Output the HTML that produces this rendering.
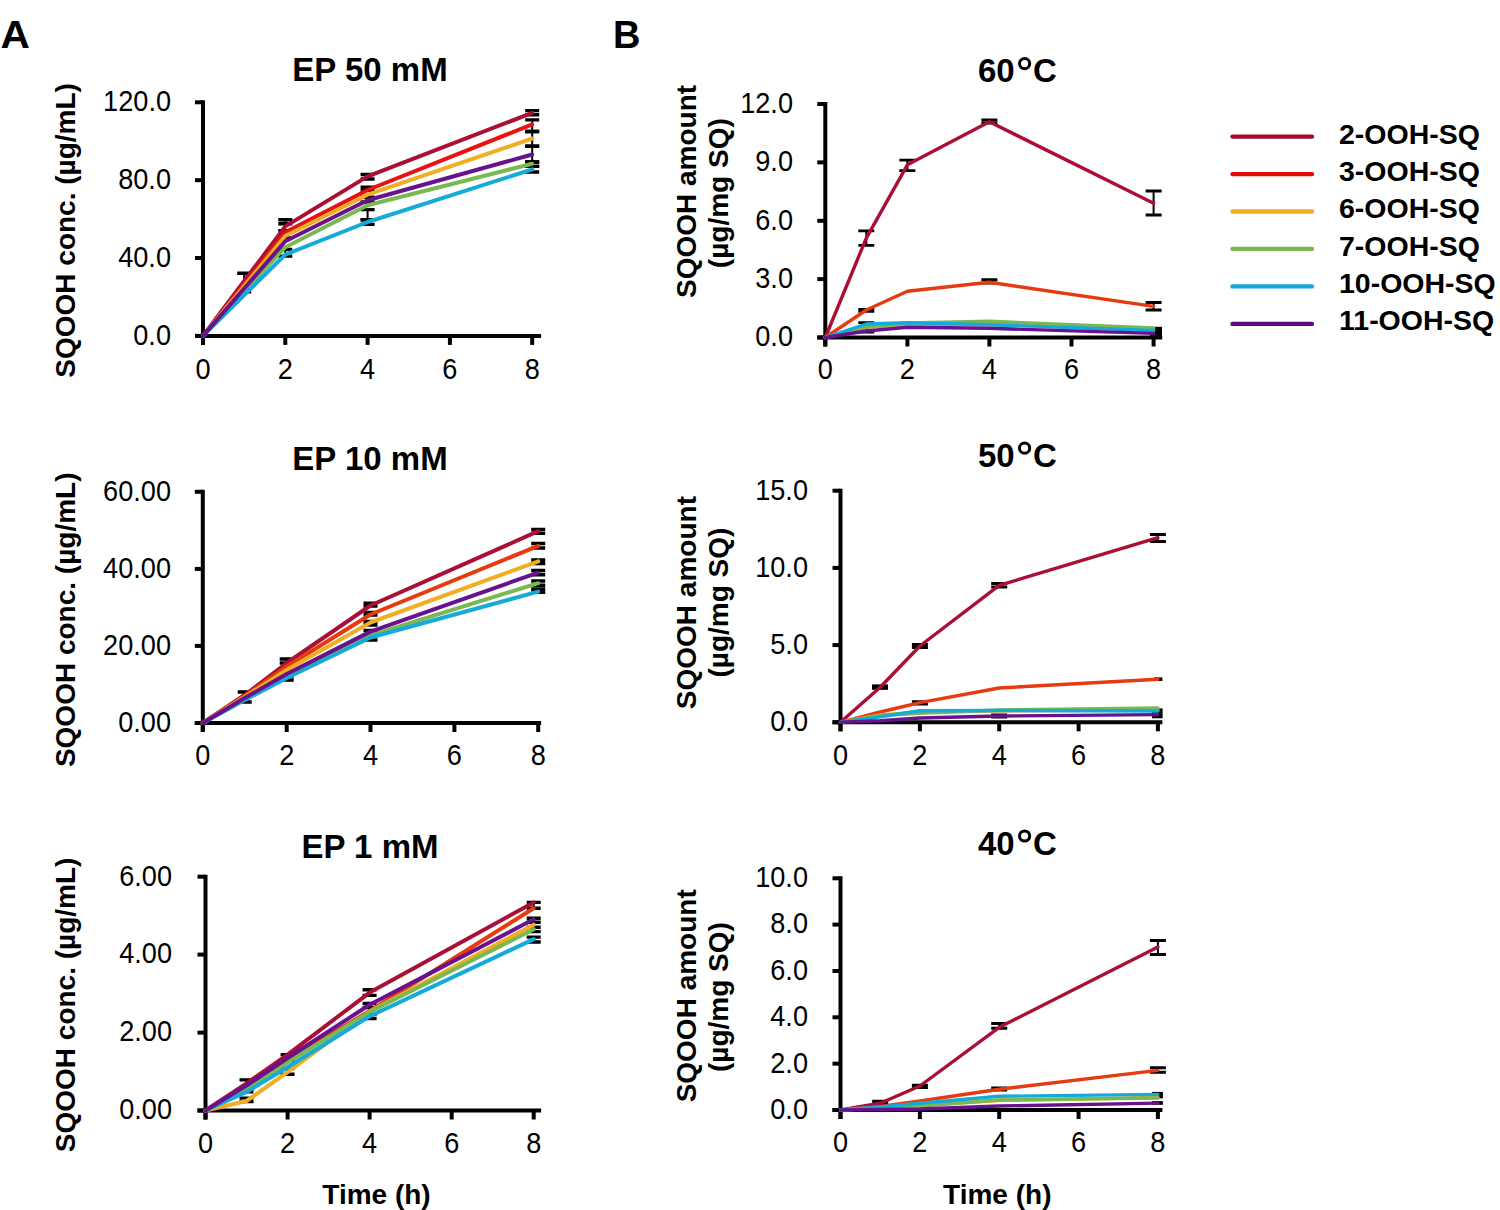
<!DOCTYPE html>
<html><head><meta charset="utf-8"><style>
html,body{margin:0;padding:0;background:#fff;width:1500px;height:1210px;overflow:hidden}
svg{display:block}
text{font-family:"Liberation Sans", sans-serif;fill:#000}
.b{font-weight:bold}
</style></head><body>
<svg width="1500" height="1210" viewBox="0 0 1500 1210">
<rect width="1500" height="1210" fill="#fff"/>
<text class="b" transform="translate(0.6 47.6) scale(1.07 1)" font-size="38">A</text>
<text class="b" x="613" y="47.6" font-size="38">B</text>
<text class="b" x="370" y="80.6" font-size="33" text-anchor="middle">EP 50 mM</text>
<text class="b" x="370" y="470" font-size="33" text-anchor="middle">EP 10 mM</text>
<text class="b" x="370" y="857.8" font-size="33" text-anchor="middle">EP 1 mM</text>
<text class="b" x="978" y="82.2" font-size="33">60</text>
<circle cx="1024.6" cy="63.6" r="5.1" fill="none" stroke="#000" stroke-width="3.0"/>
<text class="b" x="1033" y="82.2" font-size="33">C</text>
<text class="b" x="978" y="466.8" font-size="33">50</text>
<circle cx="1024.6" cy="448.2" r="5.1" fill="none" stroke="#000" stroke-width="3.0"/>
<text class="b" x="1033" y="466.8" font-size="33">C</text>
<text class="b" x="978" y="854.6" font-size="33">40</text>
<circle cx="1024.6" cy="836.0" r="5.1" fill="none" stroke="#000" stroke-width="3.0"/>
<text class="b" x="1033" y="854.6" font-size="33">C</text>
<text class="b" font-size="28" text-anchor="middle" transform="translate(75.4 230.4) rotate(-90)">SQOOH conc. (µg/mL)</text>
<text class="b" font-size="28" text-anchor="middle" transform="translate(75.4 619.8) rotate(-90)">SQOOH conc. (µg/mL)</text>
<text class="b" font-size="28" text-anchor="middle" transform="translate(75.4 1004.9) rotate(-90)">SQOOH conc. (µg/mL)</text>
<text class="b" font-size="28" text-anchor="middle" transform="translate(696.1 191.4) rotate(-90)">SQOOH amount</text>
<text class="b" font-size="28" text-anchor="middle" transform="translate(727.6 193.2) rotate(-90)">(µg/mg SQ)</text>
<text class="b" font-size="28" text-anchor="middle" transform="translate(696.1 602.6) rotate(-90)">SQOOH amount</text>
<text class="b" font-size="28" text-anchor="middle" transform="translate(727.6 602.6) rotate(-90)">(µg/mg SQ)</text>
<text class="b" font-size="28" text-anchor="middle" transform="translate(696.1 995.8) rotate(-90)">SQOOH amount</text>
<text class="b" font-size="28" text-anchor="middle" transform="translate(727.6 997.1) rotate(-90)">(µg/mg SQ)</text>
<text class="b" x="376.5" y="1203.7" font-size="28" text-anchor="middle">Time (h)</text>
<text class="b" x="997.3" y="1203.7" font-size="28" text-anchor="middle">Time (h)</text>
<path d="M203.0 100.3 V344.9" stroke="#000" stroke-width="4.0"/>
<path d="M195.0 335.9 H541.1" stroke="#000" stroke-width="4.0"/>
<path d="M195.0 335.9 H203.0" stroke="#000" stroke-width="4.0"/>
<text transform="translate(171.0 344.7) scale(0.92 1)" text-anchor="end" font-size="29.5">0.0</text>
<path d="M195.0 258.0 H203.0" stroke="#000" stroke-width="4.0"/>
<text transform="translate(171.0 266.8) scale(0.92 1)" text-anchor="end" font-size="29.5">40.0</text>
<path d="M195.0 180.2 H203.0" stroke="#000" stroke-width="4.0"/>
<text transform="translate(171.0 189.0) scale(0.92 1)" text-anchor="end" font-size="29.5">80.0</text>
<path d="M195.0 102.3 H203.0" stroke="#000" stroke-width="4.0"/>
<text transform="translate(171.0 111.1) scale(0.92 1)" text-anchor="end" font-size="29.5">120.0</text>
<path d="M203.0 335.9 V344.9" stroke="#000" stroke-width="4.0"/>
<text transform="translate(203.0 378.8) scale(0.92 1)" text-anchor="middle" font-size="29.5">0</text>
<path d="M285.3 335.9 V344.9" stroke="#000" stroke-width="4.0"/>
<text transform="translate(285.3 378.8) scale(0.92 1)" text-anchor="middle" font-size="29.5">2</text>
<path d="M367.6 335.9 V344.9" stroke="#000" stroke-width="4.0"/>
<text transform="translate(367.6 378.8) scale(0.92 1)" text-anchor="middle" font-size="29.5">4</text>
<path d="M449.9 335.9 V344.9" stroke="#000" stroke-width="4.0"/>
<text transform="translate(449.9 378.8) scale(0.92 1)" text-anchor="middle" font-size="29.5">6</text>
<path d="M532.2 335.9 V344.9" stroke="#000" stroke-width="4.0"/>
<text transform="translate(532.2 378.8) scale(0.92 1)" text-anchor="middle" font-size="29.5">8</text>
<path d="M244.2 273.2 V291.8" stroke="#000" stroke-width="2"/>
<path d="M237.2 273.2 H251.2 M237.2 291.8 H251.2" stroke="#000" stroke-width="3.4"/>
<path d="M285.3 219.7 V223.8" stroke="#000" stroke-width="2"/>
<path d="M278.3 219.7 H292.3 M278.3 223.8 H292.3" stroke="#000" stroke-width="3.4"/>
<path d="M285.3 230.8 V238.0" stroke="#000" stroke-width="2"/>
<path d="M278.3 230.8 H292.3 M278.3 238.0 H292.3" stroke="#000" stroke-width="3.4"/>
<path d="M285.3 249.4 V256.1" stroke="#000" stroke-width="2"/>
<path d="M278.3 249.4 H292.3 M278.3 256.1 H292.3" stroke="#000" stroke-width="3.4"/>
<path d="M367.6 174.5 V179.0" stroke="#000" stroke-width="2"/>
<path d="M360.6 174.5 H374.6 M360.6 179.0 H374.6" stroke="#000" stroke-width="3.4"/>
<path d="M367.6 187.3 V190.4" stroke="#000" stroke-width="2"/>
<path d="M360.6 187.3 H374.6 M360.6 190.4 H374.6" stroke="#000" stroke-width="3.4"/>
<path d="M367.6 197.2 V202.0" stroke="#000" stroke-width="2"/>
<path d="M360.6 197.2 H374.6 M360.6 202.0 H374.6" stroke="#000" stroke-width="3.4"/>
<path d="M367.6 209.6 V219.8" stroke="#000" stroke-width="2"/>
<path d="M360.6 209.6 H374.6 M360.6 219.8 H374.6" stroke="#000" stroke-width="3.4"/>
<path d="M367.6 219.8 V224.4" stroke="#000" stroke-width="2"/>
<path d="M360.6 219.8 H374.6 M360.6 224.4 H374.6" stroke="#000" stroke-width="3.4"/>
<path d="M532.2 110.6 V114.7" stroke="#000" stroke-width="2"/>
<path d="M525.2 110.6 H539.2 M525.2 114.7 H539.2" stroke="#000" stroke-width="3.4"/>
<path d="M532.2 119.9 V131.5" stroke="#000" stroke-width="2"/>
<path d="M525.2 119.9 H539.2 M525.2 131.5 H539.2" stroke="#000" stroke-width="3.4"/>
<path d="M532.2 131.5 V146.3" stroke="#000" stroke-width="2"/>
<path d="M525.2 131.5 H539.2 M525.2 146.3 H539.2" stroke="#000" stroke-width="3.4"/>
<path d="M532.2 146.3 V162.0" stroke="#000" stroke-width="2"/>
<path d="M525.2 146.3 H539.2 M525.2 162.0 H539.2" stroke="#000" stroke-width="3.4"/>
<path d="M532.2 162.0 V166.4" stroke="#000" stroke-width="2"/>
<path d="M525.2 162.0 H539.2 M525.2 166.4 H539.2" stroke="#000" stroke-width="3.4"/>
<path d="M532.2 166.4 V172.0" stroke="#000" stroke-width="2"/>
<path d="M525.2 166.4 H539.2 M525.2 172.0 H539.2" stroke="#000" stroke-width="3.4"/>
<path d="M203.0 335.9 L244.2 281.0 L285.3 226.4 L367.6 176.4 L532.2 112.9" fill="none" stroke="#AA1036" stroke-width="4.0" stroke-linejoin="round" stroke-linecap="round"/>
<path d="M203.0 335.9 L244.2 284.0 L285.3 232.3 L367.6 190.0 L532.2 124.4" fill="none" stroke="#E81212" stroke-width="4.0" stroke-linejoin="round" stroke-linecap="round"/>
<path d="M203.0 335.9 L244.2 286.0 L285.3 236.0 L367.6 194.7 L532.2 138.5" fill="none" stroke="#F0AE22" stroke-width="4.0" stroke-linejoin="round" stroke-linecap="round"/>
<path d="M203.0 335.9 L244.2 291.0 L285.3 247.2 L367.6 205.2 L532.2 163.8" fill="none" stroke="#7AB852" stroke-width="4.0" stroke-linejoin="round" stroke-linecap="round"/>
<path d="M203.0 335.9 L244.2 295.0 L285.3 254.6 L367.6 222.0 L532.2 169.4" fill="none" stroke="#16AADA" stroke-width="4.0" stroke-linejoin="round" stroke-linecap="round"/>
<path d="M203.0 335.9 L244.2 288.5 L285.3 241.2 L367.6 200.3 L532.2 154.5" fill="none" stroke="#68128E" stroke-width="4.0" stroke-linejoin="round" stroke-linecap="round"/>
<path d="M202.8 489.8 V732.0" stroke="#000" stroke-width="4.0"/>
<path d="M194.8 723.0 H541.1" stroke="#000" stroke-width="4.0"/>
<path d="M194.8 723.0 H202.8" stroke="#000" stroke-width="4.0"/>
<text transform="translate(171.0 731.8) scale(0.92 1)" text-anchor="end" font-size="29.5">0.00</text>
<path d="M194.8 645.9 H202.8" stroke="#000" stroke-width="4.0"/>
<text transform="translate(171.0 654.7) scale(0.92 1)" text-anchor="end" font-size="29.5">20.00</text>
<path d="M194.8 568.9 H202.8" stroke="#000" stroke-width="4.0"/>
<text transform="translate(171.0 577.7) scale(0.92 1)" text-anchor="end" font-size="29.5">40.00</text>
<path d="M194.8 491.8 H202.8" stroke="#000" stroke-width="4.0"/>
<text transform="translate(171.0 500.6) scale(0.92 1)" text-anchor="end" font-size="29.5">60.00</text>
<path d="M202.8 723.0 V732.0" stroke="#000" stroke-width="4.0"/>
<text transform="translate(202.8 765.3) scale(0.92 1)" text-anchor="middle" font-size="29.5">0</text>
<path d="M286.7 723.0 V732.0" stroke="#000" stroke-width="4.0"/>
<text transform="translate(286.7 765.3) scale(0.92 1)" text-anchor="middle" font-size="29.5">2</text>
<path d="M370.5 723.0 V732.0" stroke="#000" stroke-width="4.0"/>
<text transform="translate(370.5 765.3) scale(0.92 1)" text-anchor="middle" font-size="29.5">4</text>
<path d="M454.4 723.0 V732.0" stroke="#000" stroke-width="4.0"/>
<text transform="translate(454.4 765.3) scale(0.92 1)" text-anchor="middle" font-size="29.5">6</text>
<path d="M538.2 723.0 V732.0" stroke="#000" stroke-width="4.0"/>
<text transform="translate(538.2 765.3) scale(0.92 1)" text-anchor="middle" font-size="29.5">8</text>
<path d="M244.7 692.0 V702.0" stroke="#000" stroke-width="2"/>
<path d="M237.7 692.0 H251.7 M237.7 702.0 H251.7" stroke="#000" stroke-width="3.4"/>
<path d="M286.7 659.0 V663.0" stroke="#000" stroke-width="2"/>
<path d="M279.7 659.0 H293.7 M279.7 663.0 H293.7" stroke="#000" stroke-width="3.4"/>
<path d="M286.7 676.0 V680.0" stroke="#000" stroke-width="2"/>
<path d="M279.7 676.0 H293.7 M279.7 680.0 H293.7" stroke="#000" stroke-width="3.4"/>
<path d="M370.5 603.3 V606.0" stroke="#000" stroke-width="2"/>
<path d="M363.5 603.3 H377.5 M363.5 606.0 H377.5" stroke="#000" stroke-width="3.4"/>
<path d="M370.5 612.4 V615.0" stroke="#000" stroke-width="2"/>
<path d="M363.5 612.4 H377.5 M363.5 615.0 H377.5" stroke="#000" stroke-width="3.4"/>
<path d="M370.5 621.5 V625.0" stroke="#000" stroke-width="2"/>
<path d="M363.5 621.5 H377.5 M363.5 625.0 H377.5" stroke="#000" stroke-width="3.4"/>
<path d="M370.5 630.5 V640.0" stroke="#000" stroke-width="2"/>
<path d="M363.5 630.5 H377.5 M363.5 640.0 H377.5" stroke="#000" stroke-width="3.4"/>
<path d="M538.2 529.4 V533.3" stroke="#000" stroke-width="2"/>
<path d="M531.2 529.4 H545.2 M531.2 533.3 H545.2" stroke="#000" stroke-width="3.4"/>
<path d="M538.2 543.5 V548.0" stroke="#000" stroke-width="2"/>
<path d="M531.2 543.5 H545.2 M531.2 548.0 H545.2" stroke="#000" stroke-width="3.4"/>
<path d="M538.2 560.0 V563.5" stroke="#000" stroke-width="2"/>
<path d="M531.2 560.0 H545.2 M531.2 563.5 H545.2" stroke="#000" stroke-width="3.4"/>
<path d="M538.2 570.5 V574.7" stroke="#000" stroke-width="2"/>
<path d="M531.2 570.5 H545.2 M531.2 574.7 H545.2" stroke="#000" stroke-width="3.4"/>
<path d="M538.2 581.0 V585.3" stroke="#000" stroke-width="2"/>
<path d="M531.2 581.0 H545.2 M531.2 585.3 H545.2" stroke="#000" stroke-width="3.4"/>
<path d="M538.2 589.0 V592.3" stroke="#000" stroke-width="2"/>
<path d="M531.2 589.0 H545.2 M531.2 592.3 H545.2" stroke="#000" stroke-width="3.4"/>
<path d="M202.8 723.0 L244.7 695.0 L286.7 663.0 L370.5 605.5 L538.2 531.2" fill="none" stroke="#AA1036" stroke-width="4.0" stroke-linejoin="round" stroke-linecap="round"/>
<path d="M202.8 723.0 L244.7 696.0 L286.7 666.5 L370.5 614.5 L538.2 545.9" fill="none" stroke="#E63A10" stroke-width="4.0" stroke-linejoin="round" stroke-linecap="round"/>
<path d="M202.8 723.0 L244.7 697.0 L286.7 670.0 L370.5 622.5 L538.2 561.4" fill="none" stroke="#F0AE22" stroke-width="4.0" stroke-linejoin="round" stroke-linecap="round"/>
<path d="M202.8 723.0 L244.7 699.0 L286.7 677.0 L370.5 635.3 L538.2 583.2" fill="none" stroke="#7AB852" stroke-width="4.0" stroke-linejoin="round" stroke-linecap="round"/>
<path d="M202.8 723.0 L244.7 700.0 L286.7 678.0 L370.5 637.5 L538.2 591.6" fill="none" stroke="#16AADA" stroke-width="4.0" stroke-linejoin="round" stroke-linecap="round"/>
<path d="M202.8 723.0 L244.7 698.0 L286.7 674.0 L370.5 631.6 L538.2 572.6" fill="none" stroke="#68128E" stroke-width="4.0" stroke-linejoin="round" stroke-linecap="round"/>
<path d="M205.5 874.7 V1119.5" stroke="#000" stroke-width="4.0"/>
<path d="M197.5 1110.5 H541.1" stroke="#000" stroke-width="4.0"/>
<path d="M197.5 1110.5 H205.5" stroke="#000" stroke-width="4.0"/>
<text transform="translate(172.0 1119.3) scale(0.92 1)" text-anchor="end" font-size="29.5">0.00</text>
<path d="M197.5 1032.6 H205.5" stroke="#000" stroke-width="4.0"/>
<text transform="translate(172.0 1041.4) scale(0.92 1)" text-anchor="end" font-size="29.5">2.00</text>
<path d="M197.5 954.6 H205.5" stroke="#000" stroke-width="4.0"/>
<text transform="translate(172.0 963.4) scale(0.92 1)" text-anchor="end" font-size="29.5">4.00</text>
<path d="M197.5 876.7 H205.5" stroke="#000" stroke-width="4.0"/>
<text transform="translate(172.0 885.5) scale(0.92 1)" text-anchor="end" font-size="29.5">6.00</text>
<path d="M205.5 1110.5 V1119.5" stroke="#000" stroke-width="4.0"/>
<text transform="translate(205.5 1152.8) scale(0.92 1)" text-anchor="middle" font-size="29.5">0</text>
<path d="M287.6 1110.5 V1119.5" stroke="#000" stroke-width="4.0"/>
<text transform="translate(287.6 1152.8) scale(0.92 1)" text-anchor="middle" font-size="29.5">2</text>
<path d="M369.6 1110.5 V1119.5" stroke="#000" stroke-width="4.0"/>
<text transform="translate(369.6 1152.8) scale(0.92 1)" text-anchor="middle" font-size="29.5">4</text>
<path d="M451.7 1110.5 V1119.5" stroke="#000" stroke-width="4.0"/>
<text transform="translate(451.7 1152.8) scale(0.92 1)" text-anchor="middle" font-size="29.5">6</text>
<path d="M533.7 1110.5 V1119.5" stroke="#000" stroke-width="4.0"/>
<text transform="translate(533.7 1152.8) scale(0.92 1)" text-anchor="middle" font-size="29.5">8</text>
<path d="M246.5 1079.9 V1091.8" stroke="#000" stroke-width="2"/>
<path d="M239.5 1079.9 H253.5 M239.5 1091.8 H253.5" stroke="#000" stroke-width="3.4"/>
<path d="M246.5 1098.1 V1101.6" stroke="#000" stroke-width="2"/>
<path d="M239.5 1098.1 H253.5 M239.5 1101.6 H253.5" stroke="#000" stroke-width="3.4"/>
<path d="M287.6 1054.6 V1060.2" stroke="#000" stroke-width="2"/>
<path d="M280.6 1054.6 H294.6 M280.6 1060.2 H294.6" stroke="#000" stroke-width="3.4"/>
<path d="M287.6 1068.6 V1074.2" stroke="#000" stroke-width="2"/>
<path d="M280.6 1068.6 H294.6 M280.6 1074.2 H294.6" stroke="#000" stroke-width="3.4"/>
<path d="M369.6 989.7 V995.4" stroke="#000" stroke-width="2"/>
<path d="M362.6 989.7 H376.6 M362.6 995.4 H376.6" stroke="#000" stroke-width="3.4"/>
<path d="M369.6 1003.5 V1007.6" stroke="#000" stroke-width="2"/>
<path d="M362.6 1003.5 H376.6 M362.6 1007.6 H376.6" stroke="#000" stroke-width="3.4"/>
<path d="M369.6 1014.5 V1018.6" stroke="#000" stroke-width="2"/>
<path d="M362.6 1014.5 H376.6 M362.6 1018.6 H376.6" stroke="#000" stroke-width="3.4"/>
<path d="M533.7 902.4 V908.3" stroke="#000" stroke-width="2"/>
<path d="M526.7 902.4 H540.7 M526.7 908.3 H540.7" stroke="#000" stroke-width="3.4"/>
<path d="M533.7 918.3 V922.2" stroke="#000" stroke-width="2"/>
<path d="M526.7 918.3 H540.7 M526.7 922.2 H540.7" stroke="#000" stroke-width="3.4"/>
<path d="M533.7 927.2 V931.6" stroke="#000" stroke-width="2"/>
<path d="M526.7 927.2 H540.7 M526.7 931.6 H540.7" stroke="#000" stroke-width="3.4"/>
<path d="M533.7 937.1 V942.0" stroke="#000" stroke-width="2"/>
<path d="M526.7 937.1 H540.7 M526.7 942.0 H540.7" stroke="#000" stroke-width="3.4"/>
<path d="M205.5 1110.5 L246.5 1083.4 L287.6 1054.6 L369.6 992.6 L533.7 902.4" fill="none" stroke="#AA1036" stroke-width="4.0" stroke-linejoin="round" stroke-linecap="round"/>
<path d="M205.5 1110.5 L246.5 1086.0 L287.6 1060.0 L369.6 1011.0 L533.7 908.3" fill="none" stroke="#E63A10" stroke-width="4.0" stroke-linejoin="round" stroke-linecap="round"/>
<path d="M205.5 1110.5 L246.5 1101.0 L287.6 1072.1 L369.6 1011.6 L533.7 924.7" fill="none" stroke="#F0AE22" stroke-width="4.0" stroke-linejoin="round" stroke-linecap="round"/>
<path d="M205.5 1110.5 L246.5 1089.7 L287.6 1062.3 L369.6 1012.0 L533.7 929.2" fill="none" stroke="#7AB852" stroke-width="4.0" stroke-linejoin="round" stroke-linecap="round"/>
<path d="M205.5 1110.5 L246.5 1092.0 L287.6 1067.2 L369.6 1016.3 L533.7 939.1" fill="none" stroke="#16AADA" stroke-width="4.0" stroke-linejoin="round" stroke-linecap="round"/>
<path d="M205.5 1110.5 L246.5 1085.5 L287.6 1058.0 L369.6 1004.7 L533.7 919.3" fill="none" stroke="#68128E" stroke-width="4.0" stroke-linejoin="round" stroke-linecap="round"/>
<path d="M825.3 102.0 V346.5" stroke="#000" stroke-width="4.0"/>
<path d="M817.3 337.5 H1162.2" stroke="#000" stroke-width="4.0"/>
<path d="M817.3 337.5 H825.3" stroke="#000" stroke-width="4.0"/>
<text transform="translate(793.0 346.3) scale(0.92 1)" text-anchor="end" font-size="29.5">0.0</text>
<path d="M817.3 279.1 H825.3" stroke="#000" stroke-width="4.0"/>
<text transform="translate(793.0 287.9) scale(0.92 1)" text-anchor="end" font-size="29.5">3.0</text>
<path d="M817.3 220.8 H825.3" stroke="#000" stroke-width="4.0"/>
<text transform="translate(793.0 229.6) scale(0.92 1)" text-anchor="end" font-size="29.5">6.0</text>
<path d="M817.3 162.4 H825.3" stroke="#000" stroke-width="4.0"/>
<text transform="translate(793.0 171.2) scale(0.92 1)" text-anchor="end" font-size="29.5">9.0</text>
<path d="M817.3 104.0 H825.3" stroke="#000" stroke-width="4.0"/>
<text transform="translate(793.0 112.8) scale(0.92 1)" text-anchor="end" font-size="29.5">12.0</text>
<path d="M825.3 337.5 V346.5" stroke="#000" stroke-width="4.0"/>
<text transform="translate(825.3 378.8) scale(0.92 1)" text-anchor="middle" font-size="29.5">0</text>
<path d="M907.4 337.5 V346.5" stroke="#000" stroke-width="4.0"/>
<text transform="translate(907.4 378.8) scale(0.92 1)" text-anchor="middle" font-size="29.5">2</text>
<path d="M989.4 337.5 V346.5" stroke="#000" stroke-width="4.0"/>
<text transform="translate(989.4 378.8) scale(0.92 1)" text-anchor="middle" font-size="29.5">4</text>
<path d="M1071.5 337.5 V346.5" stroke="#000" stroke-width="4.0"/>
<text transform="translate(1071.5 378.8) scale(0.92 1)" text-anchor="middle" font-size="29.5">6</text>
<path d="M1153.6 337.5 V346.5" stroke="#000" stroke-width="4.0"/>
<text transform="translate(1153.6 378.8) scale(0.92 1)" text-anchor="middle" font-size="29.5">8</text>
<path d="M866.3 230.9 V245.4" stroke="#000" stroke-width="2"/>
<path d="M858.3 230.9 H874.3 M858.3 245.4 H874.3" stroke="#000" stroke-width="2.8"/>
<path d="M907.4 160.1 V170.7" stroke="#000" stroke-width="2"/>
<path d="M899.4 160.1 H915.4 M899.4 170.7 H915.4" stroke="#000" stroke-width="2.8"/>
<path d="M989.4 119.8 V123.0" stroke="#000" stroke-width="2"/>
<path d="M981.4 119.8 H997.4 M981.4 123.0 H997.4" stroke="#000" stroke-width="2.8"/>
<path d="M1153.6 191.0 V215.0" stroke="#000" stroke-width="2"/>
<path d="M1145.6 191.0 H1161.6 M1145.6 215.0 H1161.6" stroke="#000" stroke-width="2.8"/>
<path d="M866.3 309.3 V311.3" stroke="#000" stroke-width="2"/>
<path d="M858.3 309.3 H874.3 M858.3 311.3 H874.3" stroke="#000" stroke-width="2.8"/>
<path d="M989.4 279.7 V283.0" stroke="#000" stroke-width="2"/>
<path d="M981.4 279.7 H997.4 M981.4 283.0 H997.4" stroke="#000" stroke-width="2.8"/>
<path d="M1153.6 302.5 V310.0" stroke="#000" stroke-width="2"/>
<path d="M1145.6 302.5 H1161.6 M1145.6 310.0 H1161.6" stroke="#000" stroke-width="2.8"/>
<path d="M866.3 322.7 V332.0" stroke="#000" stroke-width="2"/>
<path d="M858.3 322.7 H874.3 M858.3 332.0 H874.3" stroke="#000" stroke-width="2.8"/>
<rect x="1150.0" y="326.8" width="12.0" height="9.2" fill="#000"/>
<path d="M825.3 337.5 L866.3 238.1 L907.4 164.8 L989.4 121.8 L1153.6 203.3" fill="none" stroke="#AA1036" stroke-width="3.4" stroke-linejoin="round" stroke-linecap="round"/>
<path d="M825.3 337.5 L866.3 310.0 L907.4 291.3 L989.4 282.3 L1153.6 306.4" fill="none" stroke="#E63A10" stroke-width="3.4" stroke-linejoin="round" stroke-linecap="round"/>
<path d="M825.3 337.5 L866.3 327.0 L907.4 325.0 L989.4 323.5 L1153.6 329.0" fill="none" stroke="#F0AE22" stroke-width="3.4" stroke-linejoin="round" stroke-linecap="round"/>
<path d="M825.3 337.5 L866.3 327.2 L907.4 323.0 L989.4 321.3 L1153.6 328.0" fill="none" stroke="#7AB852" stroke-width="3.4" stroke-linejoin="round" stroke-linecap="round"/>
<path d="M825.3 337.5 L866.3 324.0 L907.4 322.7 L989.4 324.7 L1153.6 330.5" fill="none" stroke="#16AADA" stroke-width="3.4" stroke-linejoin="round" stroke-linecap="round"/>
<path d="M825.3 337.5 L866.3 331.0 L907.4 327.3 L989.4 328.3 L1153.6 333.4" fill="none" stroke="#68128E" stroke-width="3.4" stroke-linejoin="round" stroke-linecap="round"/>
<path d="M840.5 488.7 V731.3" stroke="#000" stroke-width="4.0"/>
<path d="M832.5 722.3 H1162.4" stroke="#000" stroke-width="4.0"/>
<path d="M832.5 722.3 H840.5" stroke="#000" stroke-width="4.0"/>
<text transform="translate(808.0 731.1) scale(0.92 1)" text-anchor="end" font-size="29.5">0.0</text>
<path d="M832.5 645.1 H840.5" stroke="#000" stroke-width="4.0"/>
<text transform="translate(808.0 653.9) scale(0.92 1)" text-anchor="end" font-size="29.5">5.0</text>
<path d="M832.5 567.9 H840.5" stroke="#000" stroke-width="4.0"/>
<text transform="translate(808.0 576.7) scale(0.92 1)" text-anchor="end" font-size="29.5">10.0</text>
<path d="M832.5 490.7 H840.5" stroke="#000" stroke-width="4.0"/>
<text transform="translate(808.0 499.5) scale(0.92 1)" text-anchor="end" font-size="29.5">15.0</text>
<path d="M840.5 722.3 V731.3" stroke="#000" stroke-width="4.0"/>
<text transform="translate(840.5 764.6) scale(0.92 1)" text-anchor="middle" font-size="29.5">0</text>
<path d="M919.9 722.3 V731.3" stroke="#000" stroke-width="4.0"/>
<text transform="translate(919.9 764.6) scale(0.92 1)" text-anchor="middle" font-size="29.5">2</text>
<path d="M999.2 722.3 V731.3" stroke="#000" stroke-width="4.0"/>
<text transform="translate(999.2 764.6) scale(0.92 1)" text-anchor="middle" font-size="29.5">4</text>
<path d="M1078.6 722.3 V731.3" stroke="#000" stroke-width="4.0"/>
<text transform="translate(1078.6 764.6) scale(0.92 1)" text-anchor="middle" font-size="29.5">6</text>
<path d="M1157.9 722.3 V731.3" stroke="#000" stroke-width="4.0"/>
<text transform="translate(1157.9 764.6) scale(0.92 1)" text-anchor="middle" font-size="29.5">8</text>
<path d="M919.9 644.5 V647.5" stroke="#000" stroke-width="2"/>
<path d="M911.9 644.5 H927.9 M911.9 647.5 H927.9" stroke="#000" stroke-width="3.0"/>
<path d="M999.2 583.5 V587.0" stroke="#000" stroke-width="2"/>
<path d="M991.2 583.5 H1007.2 M991.2 587.0 H1007.2" stroke="#000" stroke-width="3.0"/>
<path d="M1157.9 534.6 V541.5" stroke="#000" stroke-width="2"/>
<path d="M1149.9 534.6 H1165.9 M1149.9 541.5 H1165.9" stroke="#000" stroke-width="3.0"/>
<path d="M919.9 701.7 V704.0" stroke="#000" stroke-width="2"/>
<path d="M911.9 701.7 H927.9 M911.9 704.0 H927.9" stroke="#000" stroke-width="3.0"/>
<path d="M999.2 715.0 V717.0" stroke="#000" stroke-width="2"/>
<path d="M991.2 715.0 H1007.2 M991.2 717.0 H1007.2" stroke="#000" stroke-width="3.0"/>
<rect x="1152.0" y="708.4" width="10.6" height="9.9" fill="#000"/>
<rect x="1154.0" y="677.4" width="8.4" height="3.6" fill="#000"/>
<rect x="872.0" y="684.4" width="16.0" height="5.4" fill="#000"/>
<path d="M840.5 722.3 L880.2 687.3 L919.9 646.0 L999.2 585.3 L1157.9 537.7" fill="none" stroke="#AA1036" stroke-width="3.4" stroke-linejoin="round" stroke-linecap="round"/>
<path d="M840.5 722.3 L880.2 712.0 L919.9 702.7 L999.2 688.0 L1157.9 679.2" fill="none" stroke="#E63A10" stroke-width="3.4" stroke-linejoin="round" stroke-linecap="round"/>
<path d="M840.5 722.3 L880.2 715.0 L919.9 712.0 L999.2 711.0 L1157.9 710.0" fill="none" stroke="#F0AE22" stroke-width="3.4" stroke-linejoin="round" stroke-linecap="round"/>
<path d="M840.5 722.3 L880.2 715.5 L919.9 713.3 L999.2 710.0 L1157.9 708.0" fill="none" stroke="#7AB852" stroke-width="3.4" stroke-linejoin="round" stroke-linecap="round"/>
<path d="M840.5 722.3 L880.2 716.7 L919.9 710.7 L999.2 710.5 L1157.9 711.0" fill="none" stroke="#16AADA" stroke-width="3.4" stroke-linejoin="round" stroke-linecap="round"/>
<path d="M840.5 722.3 L880.2 720.7 L919.9 718.0 L999.2 716.0 L1157.9 714.6" fill="none" stroke="#68128E" stroke-width="3.4" stroke-linejoin="round" stroke-linecap="round"/>
<path d="M840.5 876.3 V1119.0" stroke="#000" stroke-width="4.0"/>
<path d="M832.5 1110.0 H1162.4" stroke="#000" stroke-width="4.0"/>
<path d="M832.5 1110.0 H840.5" stroke="#000" stroke-width="4.0"/>
<text transform="translate(808.0 1118.8) scale(0.92 1)" text-anchor="end" font-size="29.5">0.0</text>
<path d="M832.5 1063.7 H840.5" stroke="#000" stroke-width="4.0"/>
<text transform="translate(808.0 1072.5) scale(0.92 1)" text-anchor="end" font-size="29.5">2.0</text>
<path d="M832.5 1017.3 H840.5" stroke="#000" stroke-width="4.0"/>
<text transform="translate(808.0 1026.1) scale(0.92 1)" text-anchor="end" font-size="29.5">4.0</text>
<path d="M832.5 971.0 H840.5" stroke="#000" stroke-width="4.0"/>
<text transform="translate(808.0 979.8) scale(0.92 1)" text-anchor="end" font-size="29.5">6.0</text>
<path d="M832.5 924.6 H840.5" stroke="#000" stroke-width="4.0"/>
<text transform="translate(808.0 933.4) scale(0.92 1)" text-anchor="end" font-size="29.5">8.0</text>
<path d="M832.5 878.3 H840.5" stroke="#000" stroke-width="4.0"/>
<text transform="translate(808.0 887.1) scale(0.92 1)" text-anchor="end" font-size="29.5">10.0</text>
<path d="M840.5 1110.0 V1119.0" stroke="#000" stroke-width="4.0"/>
<text transform="translate(840.5 1152.3) scale(0.92 1)" text-anchor="middle" font-size="29.5">0</text>
<path d="M919.9 1110.0 V1119.0" stroke="#000" stroke-width="4.0"/>
<text transform="translate(919.9 1152.3) scale(0.92 1)" text-anchor="middle" font-size="29.5">2</text>
<path d="M999.2 1110.0 V1119.0" stroke="#000" stroke-width="4.0"/>
<text transform="translate(999.2 1152.3) scale(0.92 1)" text-anchor="middle" font-size="29.5">4</text>
<path d="M1078.6 1110.0 V1119.0" stroke="#000" stroke-width="4.0"/>
<text transform="translate(1078.6 1152.3) scale(0.92 1)" text-anchor="middle" font-size="29.5">6</text>
<path d="M1157.9 1110.0 V1119.0" stroke="#000" stroke-width="4.0"/>
<text transform="translate(1157.9 1152.3) scale(0.92 1)" text-anchor="middle" font-size="29.5">8</text>
<path d="M880.2 1101.3 V1103.8" stroke="#000" stroke-width="2"/>
<path d="M872.2 1101.3 H888.2 M872.2 1103.8 H888.2" stroke="#000" stroke-width="3.0"/>
<path d="M919.9 1085.3 V1087.5" stroke="#000" stroke-width="2"/>
<path d="M911.9 1085.3 H927.9 M911.9 1087.5 H927.9" stroke="#000" stroke-width="3.0"/>
<path d="M999.2 1023.6 V1028.3" stroke="#000" stroke-width="2"/>
<path d="M991.2 1023.6 H1007.2 M991.2 1028.3 H1007.2" stroke="#000" stroke-width="3.0"/>
<path d="M1157.9 940.5 V954.5" stroke="#000" stroke-width="2"/>
<path d="M1149.9 940.5 H1165.9 M1149.9 954.5 H1165.9" stroke="#000" stroke-width="3.0"/>
<path d="M1157.9 1067.7 V1072.2" stroke="#000" stroke-width="2"/>
<path d="M1149.9 1067.7 H1165.9 M1149.9 1072.2 H1165.9" stroke="#000" stroke-width="3.0"/>
<path d="M999.2 1088.0 V1090.0" stroke="#000" stroke-width="2"/>
<path d="M991.2 1088.0 H1007.2 M991.2 1090.0 H1007.2" stroke="#000" stroke-width="3.0"/>
<rect x="1152.0" y="1091.9" width="10.9" height="6.5" fill="#000"/>
<rect x="1152.0" y="1101.1" width="10.9" height="3.7" fill="#000"/>
<path d="M840.5 1110.0 L880.2 1103.3 L919.9 1086.0 L999.2 1027.3 L1157.9 947.1" fill="none" stroke="#AA1036" stroke-width="3.4" stroke-linejoin="round" stroke-linecap="round"/>
<path d="M840.5 1110.0 L880.2 1106.5 L919.9 1101.0 L999.2 1089.3 L1157.9 1070.4" fill="none" stroke="#E63A10" stroke-width="3.4" stroke-linejoin="round" stroke-linecap="round"/>
<path d="M840.5 1110.0 L880.2 1108.0 L919.9 1105.5 L999.2 1100.5 L1157.9 1097.5" fill="none" stroke="#F0AE22" stroke-width="3.4" stroke-linejoin="round" stroke-linecap="round"/>
<path d="M840.5 1110.0 L880.2 1108.0 L919.9 1106.0 L999.2 1100.0 L1157.9 1098.0" fill="none" stroke="#7AB852" stroke-width="3.4" stroke-linejoin="round" stroke-linecap="round"/>
<path d="M840.5 1110.0 L880.2 1107.0 L919.9 1103.3 L999.2 1096.3 L1157.9 1094.4" fill="none" stroke="#16AADA" stroke-width="3.4" stroke-linejoin="round" stroke-linecap="round"/>
<path d="M840.5 1110.0 L880.2 1109.5 L919.9 1109.0 L999.2 1106.0 L1157.9 1103.1" fill="none" stroke="#68128E" stroke-width="3.4" stroke-linejoin="round" stroke-linecap="round"/>
<path d="M1232.5 136.6 H1312" stroke="#A30A2C" stroke-width="4.4" stroke-linecap="round"/>
<text class="b" x="1339" y="143.7" font-size="28.5">2-OOH-SQ</text>
<path d="M1232.5 174.1 H1312" stroke="#E00B0B" stroke-width="4.4" stroke-linecap="round"/>
<text class="b" x="1339" y="181.0" font-size="28.5">3-OOH-SQ</text>
<path d="M1232.5 211.5 H1312" stroke="#F0AE22" stroke-width="4.4" stroke-linecap="round"/>
<text class="b" x="1339" y="218.4" font-size="28.5">6-OOH-SQ</text>
<path d="M1232.5 248.9 H1312" stroke="#7AB852" stroke-width="4.4" stroke-linecap="round"/>
<text class="b" x="1339" y="255.7" font-size="28.5">7-OOH-SQ</text>
<path d="M1232.5 286.4 H1312" stroke="#16AADA" stroke-width="4.4" stroke-linecap="round"/>
<text class="b" x="1339" y="293.1" font-size="28.5">10-OOH-SQ</text>
<path d="M1232.5 323.9 H1312" stroke="#5E0A82" stroke-width="4.4" stroke-linecap="round"/>
<text class="b" x="1339" y="330.4" font-size="28.5">11-OOH-SQ</text>
</svg>
</body></html>
